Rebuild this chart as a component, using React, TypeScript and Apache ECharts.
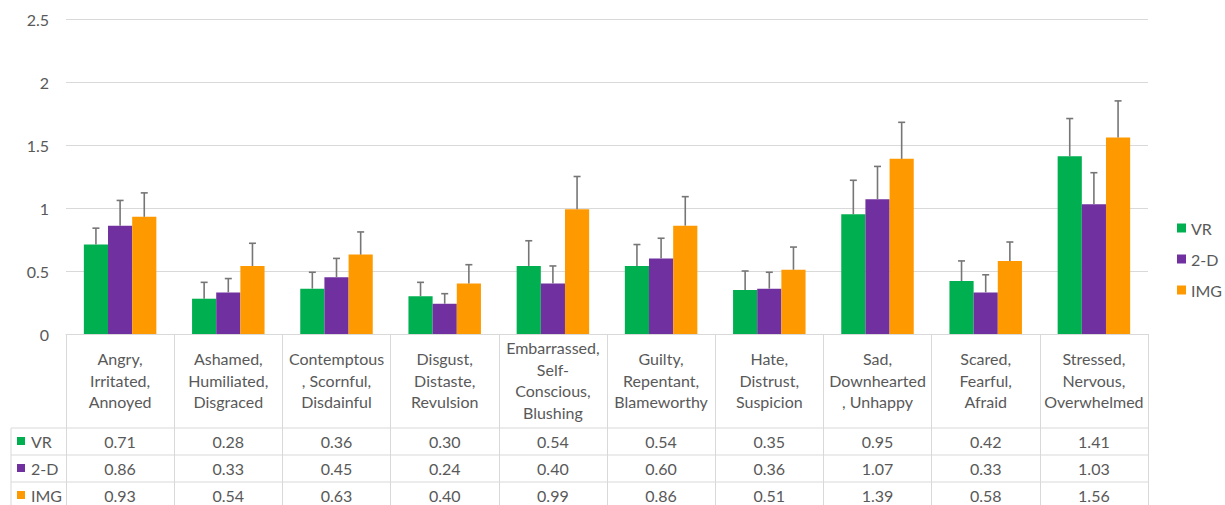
import React, { useEffect, useRef } from "react";
import * as echarts from "echarts";

const categories = [
  "Angry,\nIrritated,\nAnnoyed",
  "Ashamed,\nHumiliated,\nDisgraced",
  "Contemptous\n, Scornful,\nDisdainful",
  "Disgust,\nDistaste,\nRevulsion",
  "Embarrassed,\nSelf-\nConscious,\nBlushing",
  "Guilty,\nRepentant,\nBlameworthy",
  "Hate,\nDistrust,\nSuspicion",
  "Sad,\nDownhearted\n, Unhappy",
  "Scared,\nFearful,\nAfraid",
  "Stressed,\nNervous,\nOverwhelmed",
];

const seriesNames = ["VR", "2-D", "IMG"];
const vr = [0.71, 0.28, 0.36, 0.3, 0.54, 0.54, 0.35, 0.95, 0.42, 1.41];
const twoD = [0.86, 0.33, 0.45, 0.24, 0.4, 0.6, 0.36, 1.07, 0.33, 1.03];
const img = [0.93, 0.54, 0.63, 0.4, 0.99, 0.86, 0.51, 1.39, 0.58, 1.56];

// upper error amounts (read from whisker tops)
const vrErr = [0.13, 0.13, 0.13, 0.11, 0.2, 0.17, 0.15, 0.27, 0.16, 0.3];
const twoDErr = [0.2, 0.11, 0.15, 0.08, 0.14, 0.16, 0.13, 0.26, 0.14, 0.25];
const imgErr = [0.19, 0.18, 0.18, 0.15, 0.26, 0.23, 0.18, 0.29, 0.15, 0.29];

const yTicks = { min: 0, max: 2.5, interval: 0.5 };

const colors = ["#00B050", "#7030A0", "#FF9900"];
const FONT = "Lato";
const TXT = "#595959";
const LINE = "#D9D9D9";

export default function App() {
  const ref = useRef<HTMLDivElement>(null);
  useEffect(() => {
    if (!ref.current) return;
    const chart = echarts.init(ref.current, null, { renderer: "svg" });
    const values = [vr, twoD, img];
    const errs = [vrErr, twoDErr, imgErr];
    const gridLeft = 66;
    const gridRight = 1148;
    const axisY = 334;
    const rowYs = [441, 468, 495];

    const barSeries = values.map((vals, s) => ({
      name: seriesNames[s],
      type: "bar",
      data: vals,
      barGap: "0%",
      barCategoryGap: "33%",
      itemStyle: { color: colors[s] },
      z: 2,
    }));

    const errSeries = values.map((vals, s) => ({
      name: seriesNames[s] + " err",
      type: "custom",
      z: 3,
      data: vals.map((v, i) => [i, v, v + errs[s][i]]),
      renderItem: (params: any, api: any) => {
        const idx = api.value(0);
        const base = api.coord([idx, api.value(1)]);
        const top = api.coord([idx, api.value(2)]);
        const band = api.size([1, 0])[0];
        const bw = (band * (1 - 0.33)) / 3;
        const x = base[0] + (s - 1) * bw;
        const cap = 3.5;
        const style = { stroke: "#767676", lineWidth: 1.6 };
        return {
          type: "group",
          children: [
            { type: "line", shape: { x1: x, y1: base[1], x2: x, y2: top[1] }, style },
            { type: "line", shape: { x1: x - cap, y1: top[1], x2: x + cap, y2: top[1] }, style },
          ],
        };
      },
    }));

    const valueAxes = values.map((vals, s) => ({
      type: "category",
      data: categories,
      position: "bottom",
      axisLine: { show: false },
      axisTick: { show: false },
      axisLabel: {
        interval: 0,
        margin: rowYs[s] - axisY,
        verticalAlign: "middle",
        color: TXT,
        fontFamily: FONT,
        fontSize: 16,
        formatter: (_v: string, i: number) => vals[i].toFixed(2),
      },
    }));

    const graphics: any[] = [];
    [428, 455, 482].forEach((y) =>
      graphics.push({
        type: "line",
        shape: { x1: 11, y1: y, x2: gridRight, y2: y },
        style: { stroke: LINE, lineWidth: 1 },
        silent: true,
      })
    );
    graphics.push({
      type: "line",
      shape: { x1: 11, y1: 428, x2: 11, y2: 510 },
      style: { stroke: LINE, lineWidth: 1 },
      silent: true,
    });
    seriesNames.forEach((n, s) => {
      graphics.push({
        type: "rect",
        shape: { x: 17, y: rowYs[s] - 4, width: 8, height: 8 },
        style: { fill: colors[s] },
      });
      graphics.push({
        type: "text",
        x: 31,
        y: rowYs[s],
        style: {
          text: n,
          fill: TXT,
          font: `16px ${FONT}`,
          verticalAlign: "middle",
          align: "left",
        },
      });
    });

    chart.setOption({
      animation: false,
      textStyle: { fontFamily: FONT },
      grid: { left: gridLeft, right: 1225 - gridRight, top: 19, bottom: 505 - axisY, containLabel: false },
      legend: {
        data: seriesNames,
        orient: "vertical",
        left: 1172,
        top: 215,
        itemWidth: 9,
        itemHeight: 9,
        itemGap: 15,
        icon: "rect",
        textStyle: { color: TXT, fontFamily: FONT, fontSize: 16 },
      },
      xAxis: [
        {
          type: "category",
          data: categories,
          axisLine: { show: true, lineStyle: { color: LINE, width: 1 } },
          axisTick: { show: true, length: 180, lineStyle: { color: LINE, width: 1 } },
          axisLabel: {
            interval: 0,
            margin: 46,
            verticalAlign: "middle",
            color: TXT,
            fontFamily: FONT,
            fontSize: 16,
            lineHeight: 21.5,
          },
        },
        ...valueAxes,
      ],
      yAxis: {
        type: "value",
        min: yTicks.min,
        max: yTicks.max,
        interval: yTicks.interval,
        axisLine: { show: false },
        axisTick: { show: false },
        axisLabel: { color: TXT, fontFamily: FONT, fontSize: 16, margin: 17 },
        splitLine: { lineStyle: { color: LINE, width: 1 } },
      },
      graphic: graphics,
      series: [...barSeries, ...errSeries],
    });
    return () => chart.dispose();
  }, []);
  return (
    <div
      ref={ref}
      style={{ position: "absolute", left: 0, top: 0, width: 1225, height: 505, background: "#fff" }}
    />
  );
}
